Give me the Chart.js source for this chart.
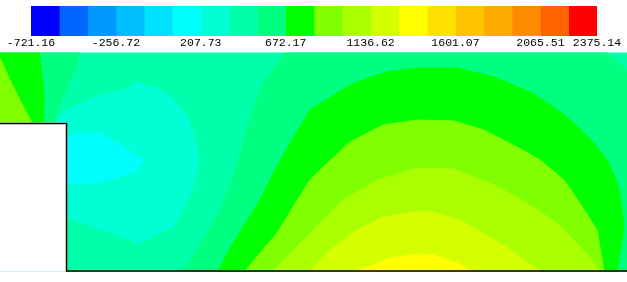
<!DOCTYPE html>
<html lang="en">
<head>
  <meta charset="UTF-8" />
  <title>Contour plot</title>
  <script src="https://cdn.jsdelivr.net/npm/chart.js"></script>
  <style>
    html, body { margin: 0; padding: 0; background: #fff; overflow: hidden; }
    #wrap { position: relative; width: 627px; height: 282px; }
    #wrap div { position: absolute; left: 0; top: 0; width: 627px; }
    #fieldBox { height: 282px; }
    #barBox { height: 52px; }
  </style>
</head>
<body>
<div id="wrap">
  <div id="fieldBox"><canvas id="fieldChart"></canvas></div>
  <div id="barBox"><canvas id="barChart"></canvas></div>
</div>

<script>
  // contour levels, one colour between each pair
  const levels = [-721.16, -566.35, -411.53, -256.72, -101.90, 52.91, 207.73, 362.54, 517.36, 672.17, 826.99,
    981.80, 1136.62, 1291.43, 1446.25, 1601.07, 1755.88, 1910.70, 2065.51, 2220.33, 2375.14];
  const levelColors = ['#0000ff', '#0066ff', '#0099ff', '#00bfff', '#00e1ff', '#00ffff', '#00ffd4', '#00ffaa', '#00ff80', '#00ff00',
    '#80ff00', '#aaff00', '#d4ff00', '#ffff00', '#ffe100', '#ffc300', '#ffaa00', '#ff8c00', '#ff6400', '#ff0000'];
  const tickValues = [-721.16, -256.72, 207.73, 672.17, 1136.62, 1601.07, 2065.51, 2375.14];

  // contour regions, as [x, y]. later ones paint over earlier ones
  const region7 = [[0,53],[627,53],[627,271],[0,271]];
  const region6 = [[55,123],[63,112],[77,105],[100,95],[123,90],[137,82],[157,88],[173,98],[187,117],[195,137],[199,160],
    [193,187],[183,210],[173,227],[138,243],[110,232],[66,217],[55,217]];
  const region5 = [[66,136],[100,133],[117,143],[143,160],[135,172],[100,182],[66,184]];
  const region8Left = [[39,53],[80,53],[75,70],[63,97],[53,123],[43,123]];
  const region8Corner = [[66,267],[77,271],[66,271]];
  const region8 = [[285,53],[607,53],[627,70],[627,271],[183,271],[203,240],[220,210],[232,180],[238,162],[247,130],[254,107],[263,83]];
  const region9Left = [[0,53],[39.5,53],[43,83],[44,100],[43,123],[0,123]];
  const region9 = [[218,271],[233,243],[260,200],[275,170],[292,140],[310,110],[350,85],[368,78],[387,72],[417,68],[457,68],[494,77],[530,92],
    [549,104],[567,117],[581,130],[594,143],[607,160],[615,177],[620,193],[624,227],[617,271]];
  const region10Left = [[0,58],[10,80],[20,100],[32,123],[0,123]];
  const region10 = [[245,271],[277,233],[293,207],[310,180],[320,170],[350,142],[383,125],[417,120],[454,121],[484,130],[517,147],
    [540,160],[564,180],[581,205],[597,230],[604,271]];
  const region11 = [[273,271],[310,233],[343,200],[377,180],[417,168],[454,169],[494,185],[527,203],[557,223],[590,257],[600,271]];
  const region12 = [[310,271],[330,250],[353,232],[383,217],[417,211],[434,212],[460,220],[500,243],[540,271]];
  const region13 = [[357,271],[373,265],[390,258],[417,254],[434,255],[457,263],[472,271]];
  const notch = [[0,123],[66,123],[66,271],[0,271]];
  const outline = [[0,123.5],[66.5,123.5],[66.5,271],[627,271]];

  const regions = [
    [region7, 7], [region6, 6], [region5, 5], [region8Left, 8], [region8Corner, 8], [region8, 8], [region9Left, 9], [region9, 9],
    [region10Left, 10], [region10, 10], [region11, 11], [region12, 12], [region13, 13]
  ];

  function toPoints(list) {
    const pts = list.map(p => ({ x: p[0], y: p[1] }));
    pts.push(pts[0]);
    return pts;
  }

  function polygon(list, color) {
    return {
      data: toPoints(list),
      showLine: true,
      fill: 'shape',
      backgroundColor: color,
      borderColor: color,
      borderWidth: 1,
      pointRadius: 0,
      tension: 0
    };
  }

  const fieldSets = regions.map(r => polygon(r[0], levelColors[r[1]]));
  fieldSets.push(polygon(notch, '#ffffff'));
  fieldSets.push({
    data: outline.map(p => ({ x: p[0], y: p[1] })),
    showLine: true,
    fill: false,
    borderColor: '#000000',
    borderWidth: 1.5,
    pointRadius: 0
  });
  // scatter draws first dataset on top, so flip the order
  fieldSets.forEach((d, i) => { d.order = fieldSets.length - i; });

  new Chart(document.getElementById('fieldChart'), {
    type: 'scatter',
    data: { datasets: fieldSets },
    options: {
      responsive: true,
      maintainAspectRatio: false,
      animation: false,
      events: [],
      layout: { padding: 0 },
      plugins: { legend: { display: false }, tooltip: { enabled: false } },
      scales: {
        x: { type: 'linear', min: 0, max: 627, display: false },
        y: { type: 'linear', min: 0, max: 282, reverse: true, display: false }
      }
    }
  });

  const barSets = levelColors.map((c, i) => ({
    data: [[levels[i], levels[i + 1]]],
    backgroundColor: c,
    borderWidth: 0,
    grouped: false,
    barPercentage: 1,
    categoryPercentage: 1
  }));

  new Chart(document.getElementById('barChart'), {
    type: 'bar',
    data: { labels: ['level'], datasets: barSets },
    options: {
      indexAxis: 'y',
      responsive: true,
      maintainAspectRatio: false,
      animation: false,
      events: [],
      layout: { padding: { left: 31, right: 30, top: 6, bottom: 0 } },
      plugins: { legend: { display: false }, tooltip: { enabled: false } },
      scales: {
        y: { display: false },
        x: {
          type: 'linear',
          min: levels[0],
          max: levels[levels.length - 1],
          grid: { display: false, drawTicks: false },
          border: { display: false },
          afterBuildTicks: axis => { axis.ticks = tickValues.map(v => ({ value: v })); },
          afterFit: axis => { axis.height = 16; },
          ticks: {
            autoSkip: false,
            maxRotation: 0,
            padding: 0,
            color: '#000000',
            font: { family: '"Liberation Mono"', size: 11.5 },
            callback: v => v.toFixed(2)
          }
        }
      }
    }
  });
</script>
</body>
</html>
